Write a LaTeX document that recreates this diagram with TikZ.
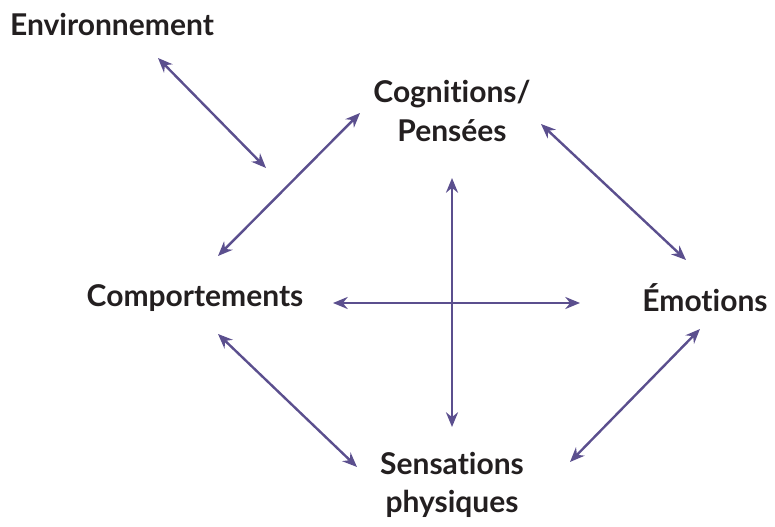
\documentclass[tikz,border=0pt]{standalone}
\usepackage{fontspec}
\setmainfont{Lato}[Ligatures={NoCommon}]
\usetikzlibrary{arrows.meta}
\definecolor{arrowc}{HTML}{5B4F8E}
\definecolor{textc}{HTML}{231F20}
\begin{document}
\begin{tikzpicture}[x=0.75pt,y=-0.75pt,
  lbl/.style={text=textc,font=\bfseries\fontsize{22.5}{29}\selectfont,align=center,inner sep=0pt},
  dbl/.style={draw=arrowc,line width=1.8pt,{Stealth[length=11pt,width=9pt]}-{Stealth[length=11pt,width=9pt]}}]
\useasboundingbox (0,0) rectangle (775,527);
\node[lbl] (env) at (112,25) {Environnement};
\node[lbl] (cog) at (452,111) {Cognitions/\\Pensées};
\node[lbl] (comp) at (195,298) {Comportements};
\node[lbl] (emo) at (705,298) {Émotions};
\node[lbl] (sens) at (452,485) {Sensations\\physiques};
\coordinate (e1) at (158,58); \coordinate (e2) at (266,168);
\coordinate (a1) at (218,256); \coordinate (a2) at (360,113);
\coordinate (b1) at (541,124); \coordinate (b2) at (686,260);
\coordinate (h1) at (333,303); \coordinate (h2) at (580,303);
\coordinate (v1) at (452,178); \coordinate (v2) at (452,427);
\coordinate (c1) at (218,334); \coordinate (c2) at (357,467);
\coordinate (d1) at (700,329); \coordinate (d2) at (570,462);
\draw[dbl] (e1) -- (e2);
\draw[dbl] (a1) -- (a2);
\draw[dbl] (b1) -- (b2);
\draw[dbl] (h1) -- (h2);
\draw[dbl] (v1) -- (v2);
\draw[dbl] (c1) -- (c2);
\draw[dbl] (d1) -- (d2);
\end{tikzpicture}
\end{document}
